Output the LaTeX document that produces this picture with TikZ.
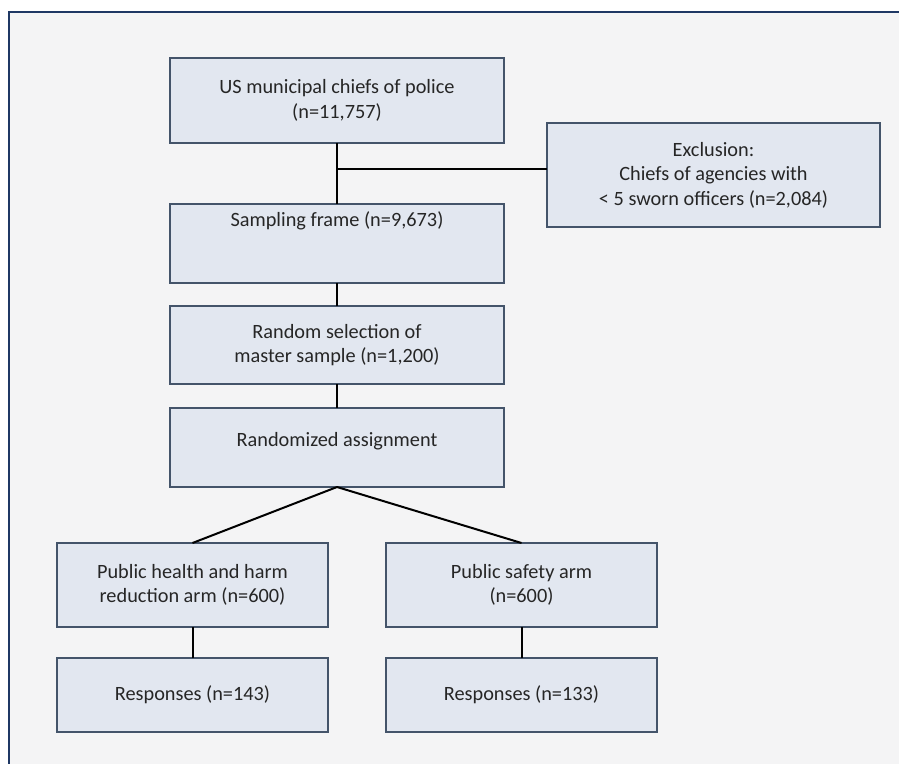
\documentclass[tikz,border=0pt]{standalone}
\usepackage{fontspec}
\setmainfont{Carlito}
\definecolor{framebg}{HTML}{F4F4F5}
\definecolor{framecol}{HTML}{1F3864}
\definecolor{boxfill}{HTML}{E2E7F0}
\definecolor{boxline}{HTML}{44546A}
\definecolor{txtcol}{HTML}{262626}
\tikzset{
  flowbox/.style={draw=boxline, line width=2pt, fill=boxfill, rectangle, inner sep=0pt, outer sep=0pt,
    align=center, text=txtcol, font=\fontsize{20.3}{24.5}\selectfont},
  mainbox/.style={flowbox, minimum width=334pt},
  armbox/.style={flowbox, minimum width=271pt},
  conn/.style={draw=black, line width=2pt}
}
\begin{document}
\begin{tikzpicture}[x=1pt,y=-1pt]
\useasboundingbox (0,0) rectangle (899,763);
\fill[white] (0,0) rectangle (899,763);
\clip (0,0) rectangle (899,763);
\draw[framecol, fill=framebg, line width=2.2pt] (9,12) rectangle (910,775);

\node[mainbox, minimum height=85pt] (top) at (337,100.5) {US municipal chiefs of police\\(n=11,757)};
\node[flowbox, minimum width=333pt, minimum height=104pt] (excl) at (713.5,175) {Exclusion:\\Chiefs of agencies with\\\textless{} 5 sworn officers (n=2,084)};
\node[mainbox, minimum height=79pt, label={[yshift=23pt, text=txtcol, font=\fontsize{20.3}{24.5}\selectfont]center:Sampling frame (n=9,673)}] (samp) at (337,243.5) {};
\node[mainbox, minimum height=78pt] (rand) at (337,345) {Random selection of\\master sample (n=1,200)};
\node[mainbox, minimum height=79pt, label={[yshift=6pt, text=txtcol, font=\fontsize{20.3}{24.5}\selectfont]center:Randomized assignment}] (assign) at (337,447.5) {};
\node[armbox, minimum height=84pt] (larm) at (192.5,585) {Public health and harm\\reduction arm (n=600)};
\node[armbox, minimum height=84pt] (rarm) at (521.5,585) {Public safety arm\\(n=600)};
\node[armbox, minimum height=74pt] (lresp) at (192.5,695) {Responses (n=143)};
\node[armbox, minimum height=74pt] (rresp) at (521.5,695) {Responses (n=133)};

\coordinate (j1) at (337,169);
\draw[conn] (top.south) -- (samp.north);
\draw[conn] (j1) -- (j1 -| excl.west);
\draw[conn] (samp.south) -- (rand.north);
\draw[conn] (rand.south) -- (assign.north);
\draw[conn] (assign.south) -- (larm.north);
\draw[conn] (assign.south) -- (rarm.north);
\draw[conn] (larm.south) -- (lresp.north);
\draw[conn] (rarm.south) -- (rresp.north);
\end{tikzpicture}
\end{document}
